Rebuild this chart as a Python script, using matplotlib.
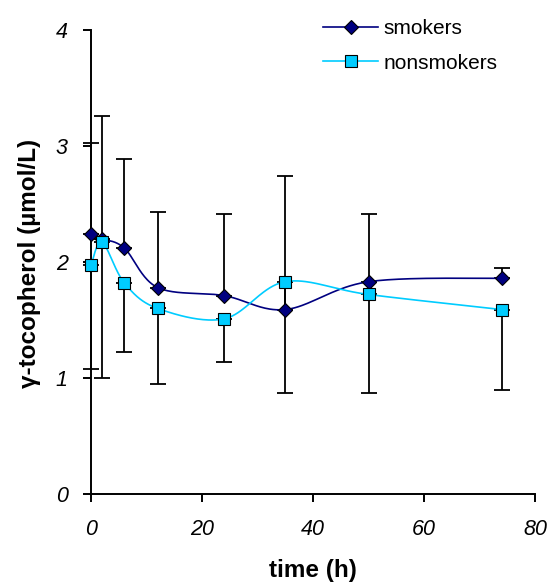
import numpy as np
import matplotlib
matplotlib.use("Agg")
import matplotlib.pyplot as plt
from matplotlib.lines import Line2D

# Sampling times (h)
time_h = [0, 2, 6, 12, 24, 35, 50, 74]

# Mean gamma-tocopherol concentrations (umol/L)
smokers = [2.24, 2.20, 2.12, 1.78, 1.71, 1.59, 1.83, 1.86]
nonsmokers = [1.97, 2.17, 1.82, 1.60, 1.51, 1.83, 1.72, 1.59]

# Error bars: upper for smokers, lower for nonsmokers
smokers_err_up = [0.79, 1.06, 0.77, 0.65, 0.70, 1.15, 0.58, 0.09]
nonsmokers_err_down = [0.89, 1.17, 0.60, 0.65, 0.37, 0.96, 0.85, 0.69]

x_ticks = [0, 20, 40, 60, 80]
y_ticks = [0, 1, 2, 3, 4]

NAVY = "#000080"
CYAN = "#00CCFF"
FONT = "Liberation Sans"

W, H = 549, 582
fig = plt.figure(figsize=(W / 100, H / 100), dpi=100)
ax = fig.add_axes([91 / W, 1 - 494 / H, (535 - 91) / W, (494 - 30) / H])
ax.set_xlim(0, 80)
ax.set_ylim(0, 4)


def smooth_curve(ax, x, y, n=40):
    """Bezier smoothing through the points, computed in screen space."""
    pts = ax.transData.transform(np.column_stack([x, y]))
    P = np.vstack([pts[0], pts, pts[-1]])
    t = np.linspace(0, 1, n)[:, None]
    segs = []
    for i in range(1, len(P) - 2):
        p0, p1, p2, p3 = P[i - 1], P[i], P[i + 1], P[i + 2]
        c1 = p1 + (p2 - p0) / 6.0
        c2 = p2 - (p3 - p1) / 6.0
        seg = ((1 - t) ** 3) * p1 + 3 * ((1 - t) ** 2) * t * c1 \
            + 3 * (1 - t) * (t ** 2) * c2 + (t ** 3) * p2
        segs.append(seg if i == 1 else seg[1:])
    curve = ax.transData.inverted().transform(np.vstack(segs))
    return curve[:, 0], curve[:, 1]


zeros = [0] * len(time_h)
ax.errorbar(time_h, smokers, yerr=[zeros, smokers_err_up], fmt="none",
            ecolor="black", elinewidth=1.3, capsize=5.8, capthick=1.3,
            zorder=2, clip_on=False)
ax.errorbar(time_h, nonsmokers, yerr=[nonsmokers_err_down, zeros], fmt="none",
            ecolor="black", elinewidth=1.3, capsize=5.8, capthick=1.3,
            zorder=2, clip_on=False)

DIAMOND_MS = 7.0
SQUARE_MS = 8.3

sx, sy = smooth_curve(ax, time_h, smokers)
nx, ny = smooth_curve(ax, time_h, nonsmokers)
ax.plot(sx, sy, color=NAVY, lw=1.2, zorder=3, clip_on=False)
ax.plot(nx, ny, color=CYAN, lw=1.2, zorder=3, clip_on=False)
ax.plot(time_h, smokers, ls="none", marker="D", ms=DIAMOND_MS, mfc=NAVY,
        mec="black", mew=0.8, zorder=4, clip_on=False)
ax.plot(time_h, nonsmokers, ls="none", marker="s", ms=SQUARE_MS, mfc=CYAN,
        mec="black", mew=0.8, zorder=5, clip_on=False)

# Axes styling
for side in ("top", "right"):
    ax.spines[side].set_visible(False)
for side in ("left", "bottom"):
    ax.spines[side].set_linewidth(1.4)
    ax.spines[side].set_zorder(1)
ax.set_xticks(x_ticks)
ax.set_yticks(y_ticks)
ax.tick_params(axis="both", direction="out", length=5.8, width=1.4)
ax.tick_params(axis="y", pad=11)
ax.tick_params(axis="x", pad=12)
for lab in ax.get_xticklabels() + ax.get_yticklabels():
    lab.set_fontfamily(FONT)
    lab.set_fontstyle("italic")
    lab.set_fontsize(15.5)

fig.text(313 / W, 1 - 571 / H, "time (h)", ha="center", va="center",
         fontfamily=FONT, fontweight="bold", fontsize=17.5)
fig.text(30 / W, 1 - 263 / H, "γ-tocopherol (µmol/L)", ha="center",
         va="center", rotation=90, fontfamily=FONT, fontweight="bold",
         fontsize=17.5)

handles = [
    Line2D([], [], color=NAVY, lw=1.2, marker="D", ms=DIAMOND_MS, mfc=NAVY,
           mec="black", mew=0.8),
    Line2D([], [], color=CYAN, lw=1.2, marker="s", ms=SQUARE_MS, mfc=CYAN,
           mec="black", mew=0.8),
]
fig.legend(handles, ["smokers", "nonsmokers"], loc="upper left",
           bbox_to_anchor=(323 / W, 1 - 19 / H), frameon=False,
           borderpad=0, borderaxespad=0, handlelength=2.65,
           handletextpad=0.25, labelspacing=0.75,
           prop={"family": FONT, "size": 15})

fig.savefig("out.png", dpi=100)
